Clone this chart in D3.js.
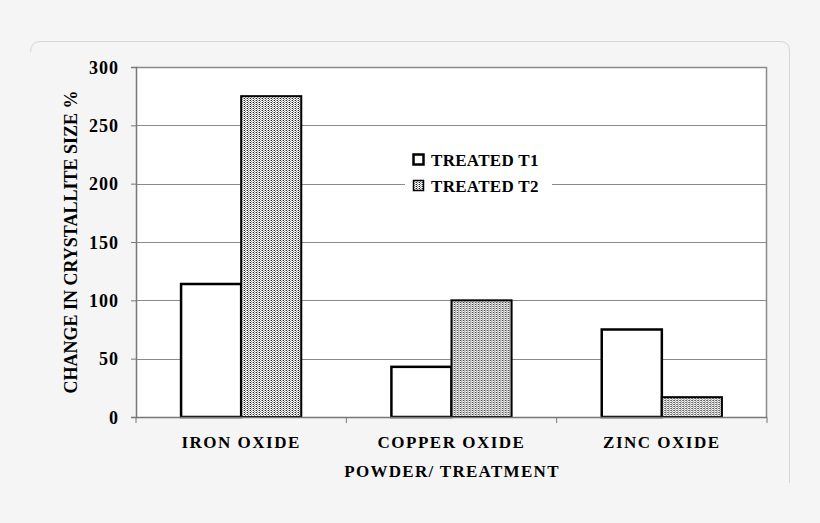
<!DOCTYPE html>
<html><head><meta charset="utf-8">
<script src="https://cdn.jsdelivr.net/npm/d3@7"></script>
<style>html,body{margin:0;padding:0;background:#f5f5f5;}svg{display:block;}</style>
</head><body>
<script>
const categories = ["IRON OXIDE", "COPPER OXIDE", "ZINC OXIDE"];
const seriesNames = ["TREATED T1", "TREATED T2"];
const treatedT1 = [114, 43, 75];
const treatedT2 = [275, 100, 17];
const yTicks = [0, 50, 100, 150, 200, 250, 300];
const yTitle = "CHANGE IN CRYSTALLITE SIZE %";
const xTitle = "POWDER/ TREATMENT";

const W = 820, H = 523;
const m = {left: 136, top: 67, right: 767, bottom: 417};
const svg = d3.select("body").append("svg").attr("width", W).attr("height", H);
const font = "'Liberation Serif','Times New Roman',serif";

// background and card outline (only top-left corner, top, right edge visible)
svg.append("rect").attr("width", W).attr("height", H).attr("fill", "#f5f5f5");
svg.append("path")
  .attr("d", "M30.5,52 Q30.5,41.5 41,41.5 H780 Q789.5,41.5 789.5,51 V483")
  .attr("fill", "none").attr("stroke", "#d6d6d6").attr("stroke-width", 1);

// pattern
const defs = svg.append("defs");
const pat = defs.append("pattern").attr("id", "dots").attr("patternUnits", "userSpaceOnUse")
  .attr("width", 3).attr("height", 2);
pat.append("rect").attr("width", 3).attr("height", 2).attr("fill", "#ffffff");
pat.append("rect").attr("x", 0).attr("y", 0).attr("width", 1).attr("height", 1).attr("fill", "#222");
pat.append("rect").attr("x", 1).attr("y", 1).attr("width", 1).attr("height", 1).attr("fill", "#888");
pat.append("rect").attr("x", 2).attr("y", 0).attr("width", 1).attr("height", 1).attr("fill", "#aaa");

const x0 = d3.scaleBand().domain(categories).range([m.left, m.right]).paddingInner(0).paddingOuter(0);
const x1 = d3.scaleBand().domain(seriesNames).range([0, x0.bandwidth()]).paddingInner(0).paddingOuter(0.75);
const y = d3.scaleLinear().domain([0, 300]).range([m.bottom, m.top]);

// plot area
svg.append("rect").attr("x", m.left).attr("y", m.top).attr("width", m.right - m.left)
  .attr("height", m.bottom - m.top).attr("fill", "#fff");

// gridlines
svg.append("g").selectAll("line").data(yTicks.filter(d => d > 0 && d < 300)).join("line")
  .attr("x1", m.left).attr("x2", m.right)
  .attr("y1", d => Math.round(y(d)) + 0.5).attr("y2", d => Math.round(y(d)) + 0.5)
  .attr("stroke", "#8a8a8a").attr("stroke-width", 1);

// plot border (top/right)
svg.append("path")
  .attr("d", `M${m.left},${m.top + 0.5}H${m.right - 0.5}V${m.bottom}`)
  .attr("fill", "none").attr("stroke", "#8a8a8a").attr("stroke-width", 1.5);

// legend background
const lg = svg.append("g");
lg.append("rect").attr("x", 405).attr("y", 146).attr("width", 147).attr("height", 52).attr("fill", "#fff");

// bars
const data = categories.map((c, i) => ({cat: c, vals: [treatedT1[i], treatedT2[i]]}));
const groups = svg.append("g").selectAll("g").data(data).join("g")
  .attr("transform", d => `translate(${x0(d.cat)},0)`);
groups.selectAll("rect").data(d => d.vals.map((v, j) => ({s: seriesNames[j], v, j}))).join("rect")
  .attr("x", d => x1(d.s)).attr("width", x1.bandwidth())
  .attr("y", d => y(d.v)).attr("height", d => y(0) - y(d.v))
  .attr("fill", d => d.j === 0 ? "#fff" : "url(#dots)")
  .attr("stroke", "#000").attr("stroke-width", d => d.j === 0 ? 2.5 : 2);

// y axis
const yAxis = d3.axisLeft(y).tickValues(yTicks).tickSize(5).tickPadding(12);
const ya = svg.append("g").attr("transform", `translate(${m.left},0)`).call(yAxis);
ya.select(".domain").attr("stroke", "#777").attr("stroke-width", 1.5);
ya.selectAll(".tick line").attr("stroke", "#777");
ya.selectAll("text").attr("font-family", font).attr("font-weight", "bold")
  .attr("font-size", 18).attr("letter-spacing", 1).attr("fill", "#000").attr("dy", "0.35em");

// x axis baseline + ticks at boundaries
const xb = svg.append("g");
xb.append("line").attr("x1", m.left).attr("x2", m.right).attr("y1", m.bottom + 0.5).attr("y2", m.bottom + 0.5)
  .attr("stroke", "#777").attr("stroke-width", 1.5);
const bounds = categories.map(c => x0(c)).concat([m.right]);
xb.selectAll("line.t").data(bounds).join("line").attr("class", "t")
  .attr("x1", d => d).attr("x2", d => d).attr("y1", m.bottom).attr("y2", m.bottom + 6)
  .attr("stroke", "#777").attr("stroke-width", 1);
xb.selectAll("text").data(categories).join("text")
  .attr("x", d => x0(d) + x0.bandwidth() / 2).attr("y", 448)
  .attr("text-anchor", "middle").attr("font-family", font).attr("font-weight", "bold")
  .attr("font-size", 17).attr("letter-spacing", 1.5).text(d => d);

// titles
svg.append("text").attr("x", 452).attr("y", 477).attr("text-anchor", "middle")
  .attr("font-family", font).attr("font-weight", "bold").attr("font-size", 17).attr("letter-spacing", 1.3)
  .text(xTitle);
svg.append("text").attr("transform", `translate(77,${(m.top + m.bottom) / 2}) rotate(-90)`)
  .attr("text-anchor", "middle").attr("font-family", font).attr("font-weight", "bold")
  .attr("font-size", 18).text(yTitle);

// legend
const li = lg.selectAll("g").data(seriesNames).join("g")
  .attr("transform", (d, i) => `translate(413,${154 + i * 26})`);
li.append("rect").attr("x", 0.5).attr("y", 0.5).attr("width", 10).attr("height", 10)
  .attr("fill", (d, i) => i === 0 ? "#fff" : "url(#dots)").attr("stroke", "#000")
  .attr("stroke-width", (d, i) => i === 0 ? 2.5 : 1.5);
li.append("text").attr("x", 18).attr("y", 12).attr("font-family", font).attr("font-weight", "bold")
  .attr("font-size", 17).attr("letter-spacing", 0.3).text(d => d);
</script>
</body></html>
